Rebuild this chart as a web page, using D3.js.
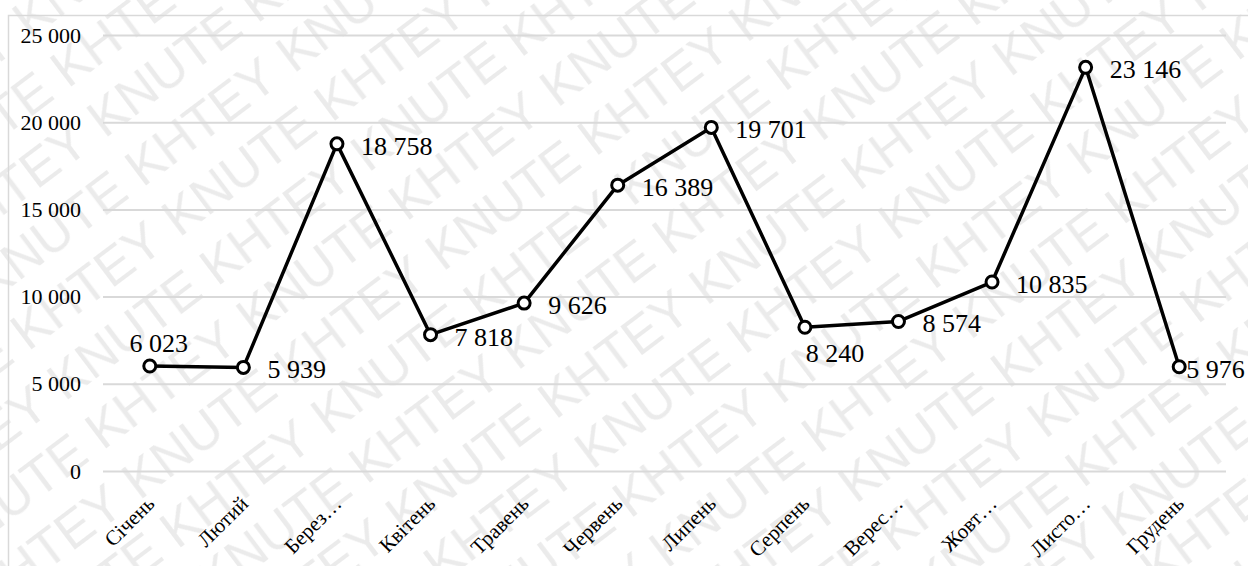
<!DOCTYPE html>
<html>
<head>
<meta charset="utf-8">
<script src="https://cdn.jsdelivr.net/npm/d3@7"></script>
<style>
  body { margin: 0; background: #fff; }
  svg { display: block; }
</style>
</head>
<body>
<script>
// Місяці та значення
const months = ["Січень", "Лютий", "Берез…", "Квітень", "Травень", "Червень",
                "Липень", "Серпень", "Верес…", "Жовт…", "Листо…", "Грудень"];
const values = [6023, 5939, 18758, 7818, 9626, 16389, 19701, 8240, 8574, 10835, 23146, 5976];
const yTicks = [0, 5000, 10000, 15000, 20000, 25000];
// where each data label sits relative to its point
const labelPos = ["above", "right", "right", "right", "right", "right",
                  "right", "below", "right", "right", "right", "tight"];

const width = 1248, height = 566;
const margin = {top: 35, right: 22, bottom: 95, left: 103};
const serif = '"Liberation Serif", "Times New Roman", serif';

const svg = d3.select("body").append("svg")
    .attr("width", width)
    .attr("height", height);

// watermark as a tiled pattern
const tileW = 380, tileH = 124;
const pat = svg.append("defs").append("pattern")
    .attr("id", "wm")
    .attr("patternUnits", "userSpaceOnUse")
    .attr("width", tileW).attr("height", tileH)
    .attr("patternTransform", "rotate(-37)");
const wmText = pat.append("g")
    .attr("fill", "#ebebeb")
    .style("font-family", '"Liberation Sans", Arial, sans-serif')
    .attr("font-size", 52);
[[0, 50], [-tileW, 50], [-tileW / 2, 112], [tileW / 2, 112]].forEach(([tx, ty]) => {
  wmText.append("text").attr("x", tx).attr("y", ty).text("KNUTE KHTEY ");
});
svg.append("rect")
    .attr("width", width).attr("height", height)
    .attr("fill", "url(#wm)");

// chart border
svg.append("rect")
    .attr("x", 8.5).attr("y", 15.5)
    .attr("width", 1300).attr("height", 700)
    .attr("fill", "none")
    .attr("stroke", "#d9d9d9")
    .attr("stroke-width", 1.5);

const x = d3.scaleBand()
    .domain(months)
    .range([margin.left, width - margin.right]);

const y = d3.scaleLinear()
    .domain([0, 25000])
    .range([height - margin.bottom, margin.top]);

const fmt = v => d3.format(",")(v).replace(/,/g, " ");

// gridlines + y labels
svg.append("g")
    .call(d3.axisLeft(y).tickValues(yTicks).tickFormat(fmt)
        .tickSize(-(width - margin.left - margin.right)).tickPadding(22))
    .attr("transform", `translate(${margin.left},0)`)
    .call(g => g.select(".domain").remove())
    .call(g => g.selectAll(".tick line").attr("stroke", "#d9d9d9").attr("stroke-width", 2))
    .call(g => g.selectAll(".tick text")
        .style("font-family", serif)
        .attr("fill", "#000")
        .attr("font-size", 22));

// x labels
svg.append("g")
    .selectAll("text")
    .data(months)
    .join("text")
      .style("font-family", serif)
      .attr("font-size", 21)
      .attr("transform", d => `translate(${x(d) + x.bandwidth() / 2 + 6},${height - margin.bottom + 34}) rotate(-45)`)
      .attr("text-anchor", "end")
      .text(d => d);

const cx = (d, i) => x(months[i]) + x.bandwidth() / 2;

const line = d3.line()
    .x((d, i) => cx(d, i))
    .y(d => y(d));

svg.append("path")
    .datum(values)
    .attr("fill", "none")
    .attr("stroke", "#000")
    .attr("stroke-width", 3.5)
    .attr("stroke-linejoin", "round")
    .attr("d", line);

svg.append("g")
    .selectAll("circle")
    .data(values)
    .join("circle")
      .attr("cx", cx)
      .attr("cy", d => y(d))
      .attr("r", 6)
      .attr("fill", "#fff")
      .attr("stroke", "#000")
      .attr("stroke-width", 3);

// data labels
svg.append("g")
    .selectAll("text")
    .data(values)
    .join("text")
      .style("font-family", serif)
      .attr("font-size", 26)
      .attr("x", (d, i) => {
        const p = labelPos[i];
        if (p === "above") return cx(d, i) + 9;
        if (p === "below") return cx(d, i) + 30;
        if (p === "tight") return cx(d, i) + 7;
        return cx(d, i) + 24;
      })
      .attr("y", (d, i) => {
        const p = labelPos[i];
        if (p === "above") return y(d) - 14;
        if (p === "below") return y(d) + 35;
        return y(d) + 11;
      })
      .attr("text-anchor", (d, i) => labelPos[i] === "above" || labelPos[i] === "below" ? "middle" : "start")
      .text(fmt);
</script>
</body>
</html>
